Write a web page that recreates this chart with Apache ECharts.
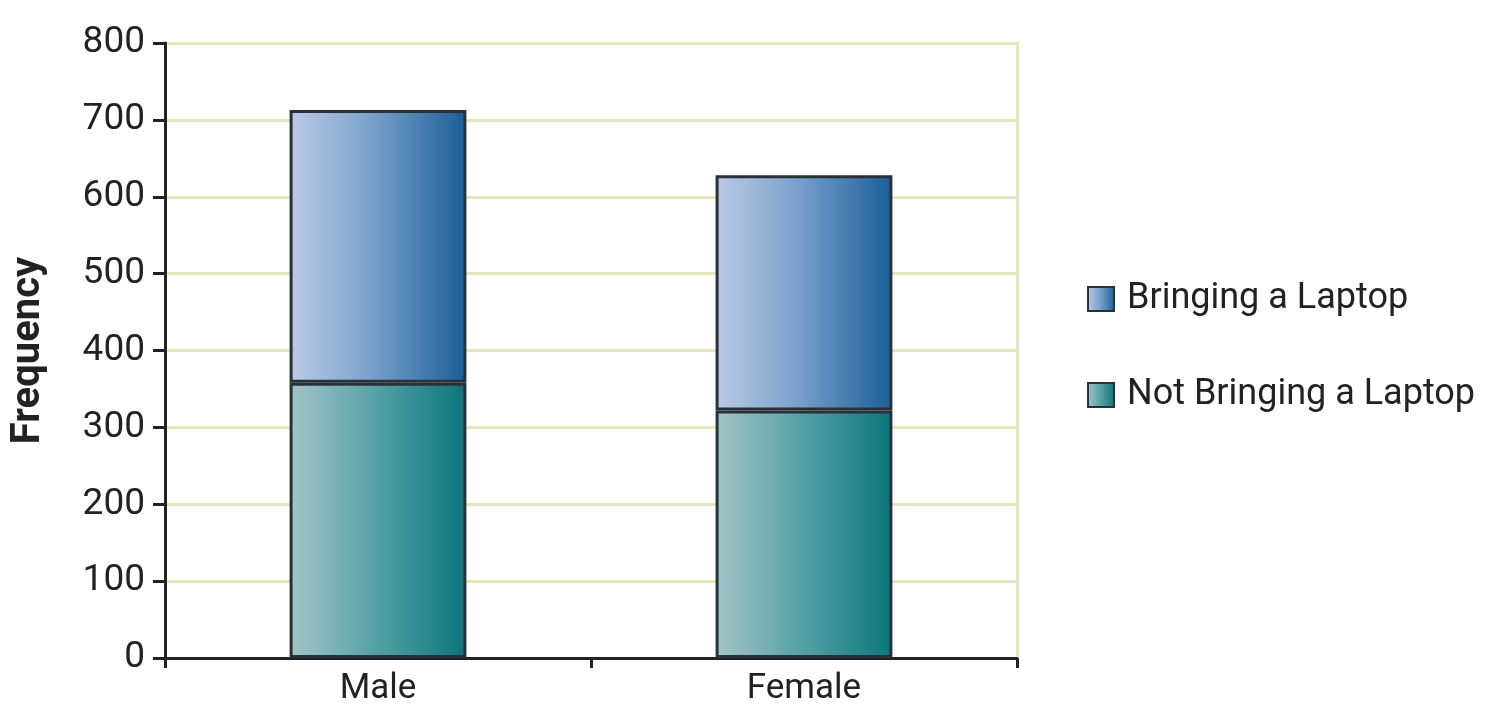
<!DOCTYPE html>
<html><head><meta charset="utf-8">
<script src="https://cdn.jsdelivr.net/npm/echarts@6/dist/echarts.min.js"></script>
<style>html,body{margin:0;padding:0;background:#fff}#c{width:1496px;height:722px}</style>
</head><body><div id="c"></div>
<script>
const categories = ['Male', 'Female'];
const seriesNames = ['Bringing a Laptop', 'Not Bringing a Laptop'];
const notBringing = [358, 322];
const bringing = [355, 306];
const yTicks = [0, 100, 200, 300, 400, 500, 600, 700, 800];

const FONT = 'Roboto';
function grad(c0, c1, c2) {
  return new echarts.graphic.LinearGradient(0, 0, 1, 0, [
    {offset: 0, color: c0}, {offset: 0.45, color: c1}, {offset: 1, color: c2}
  ]);
}
const chart = echarts.init(document.getElementById('c'));
chart.setOption({
  animation: false,
  backgroundColor: '#ffffff',
  grid: {left: 165, right: 479, top: 43, bottom: 64, containLabel: false},
  legend: {
    orient: 'vertical', left: 1082, top: 274,
    itemWidth: 26, itemHeight: 24, itemGap: 56,
    icon: 'rect',
    textStyle: {fontFamily: FONT, fontSize: 36, color: '#222', lineHeight: 40, padding: [0,0,0,8]},
    data: seriesNames
  },
  xAxis: {
    type: 'category', data: categories,
    axisLine: {lineStyle: {color: '#222', width: 3}},
    axisTick: {show: true, length: 10, lineStyle: {color: '#222', width: 3}},
    axisLabel: {fontFamily: FONT, fontSize: 35, color: '#222', margin: 14}
  },
  yAxis: [{
    type: 'value', min: yTicks[0], max: yTicks[yTicks.length-1], interval: 100,
    name: 'Frequency', nameLocation: 'middle', nameGap: 116, nameRotate: 90,
    nameTextStyle: {fontFamily: FONT, fontSize: 40, fontWeight: 'bold', color: '#222'},
    axisLine: {show: true, lineStyle: {color: '#222', width: 3}},
    axisTick: {show: true, length: 12, lineStyle: {color: '#222', width: 3}},
    axisLabel: {fontFamily: FONT, fontSize: 37, color: '#222', margin: 20},
    splitLine: {show: true, lineStyle: {color: '#e6e6bc', width: 3}}
  }, {
    type: 'value', position: 'right', min: yTicks[0], max: yTicks[yTicks.length-1], interval: 100,
    axisLine: {show: true, lineStyle: {color: '#e6e6bc', width: 3}},
    axisTick: {show: false}, axisLabel: {show: false}, splitLine: {show: false}
  }],
  series: [{
    name: seriesNames[1], type: 'bar', stack: 'total', data: notBringing, barWidth: '41.5%',
    itemStyle: {color: grad('#a4c4c8', '#5aa4a8', '#0a767c'), borderColor: '#283038', borderWidth: 3}
  }, {
    name: seriesNames[0], type: 'bar', stack: 'total', data: bringing, barWidth: '41.5%',
    itemStyle: {color: grad('#bccae6', '#7ca2cc', '#1a5e98'), borderColor: '#283038', borderWidth: 3}
  }]
});
</script></body></html>
